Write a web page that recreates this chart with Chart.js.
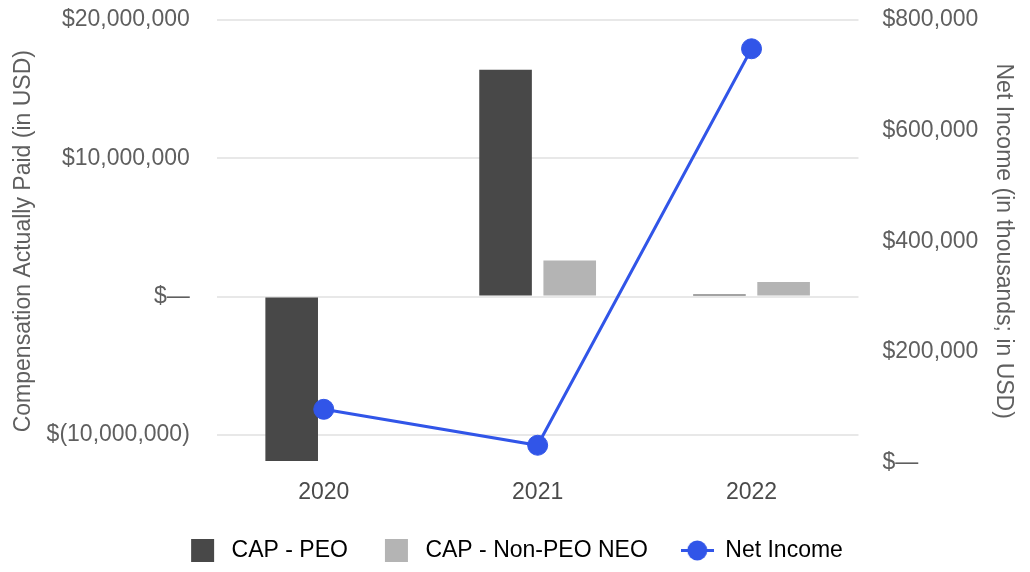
<!DOCTYPE html>
<html>
<head>
<meta charset="utf-8">
<script src="https://cdn.jsdelivr.net/npm/chart.js@4"></script>
<style>
  html, body { margin: 0; padding: 0; background: #fff; }
  #wrap { width: 1030px; height: 572px; }
</style>
</head>
<body>
<div id="wrap"><canvas id="myChart"></canvas></div>
<script>
// data //
const years = ["2020", "2021", "2022"];
const capPeo = [-11900000, 16400000, 150000];
const capNonPeo = [null, 2600000, 1050000];
const netIncome = [96000, 31000, 748000];
const leftTicks = [-10000000, 0, 10000000, 20000000];
const rightTicks = [0, 200000, 400000, 600000, 800000];

const peoColor = "#484848";
const neoColor = "#b4b4b4";
const lineColor = "#3155e8";
const font = "'Liberation Sans', Arial, sans-serif";

function money(v) {
  if (v === 0) return "$\u2014";
  const s = Math.abs(v).toLocaleString("en-US");
  return v < 0 ? "$(" + s + ")" : "$" + s;
}

// legend markers
function boxMarker(color) {
  const c = document.createElement("canvas");
  c.width = 33; c.height = 23;
  const ctx = c.getContext("2d");
  ctx.fillStyle = color;
  ctx.fillRect(4, 0, 23, 23);
  return c;
}
function lineMarker(color) {
  const c = document.createElement("canvas");
  c.width = 33; c.height = 23;
  const ctx = c.getContext("2d");
  ctx.strokeStyle = color;
  ctx.lineWidth = 3;
  ctx.beginPath(); ctx.moveTo(0, 11.5); ctx.lineTo(33, 11.5); ctx.stroke();
  ctx.fillStyle = color;
  ctx.beginPath(); ctx.arc(16.5, 11.5, 10, 0, Math.PI * 2); ctx.fill();
  return c;
}
const markers = [boxMarker(peoColor), boxMarker(neoColor), lineMarker(lineColor)];

new Chart("myChart", {
  type: "bar",
  data: {
    labels: years,
    datasets: [{
      label: "CAP - PEO",
      data: capPeo,
      backgroundColor: peoColor,
      yAxisID: "y",
      categoryPercentage: 0.6,
      barPercentage: 0.82,
      order: 2
    }, {
      label: "CAP - Non-PEO NEO",
      data: capNonPeo,
      backgroundColor: neoColor,
      yAxisID: "y",
      categoryPercentage: 0.6,
      barPercentage: 0.82,
      order: 2
    }, {
      type: "line",
      label: "Net Income",
      data: netIncome,
      borderColor: lineColor,
      backgroundColor: lineColor,
      borderWidth: 3,
      pointRadius: 10,
      pointBorderWidth: 1,
      pointBackgroundColor: lineColor,
      yAxisID: "y1",
      order: 1
    }]
  },
  options: {
    responsive: true,
    maintainAspectRatio: false,
    animation: false,
    layout: { padding: { top: 20, left: 0, right: 0, bottom: 0 } },
    plugins: {
      tooltip: { enabled: false },
      legend: {
        position: "bottom",
        labels: {
          color: "#4a4a4a",
          font: { family: font, size: 23 },
          padding: 33,
          usePointStyle: true,
          pointStyleWidth: 33,
          boxHeight: 23,
          generateLabels: function(chart) {
            return chart.data.datasets.map(function(ds, i) {
              return { text: ds.label, pointStyle: markers[i], datasetIndex: i, hidden: false, lineWidth: 0 };
            });
          }
        }
      }
    },
    scales: {
      x: {
        grid: { display: false, drawTicks: true, tickLength: 16 },
        border: { display: false },
        ticks: { color: "#4a4a4a", font: { family: font, size: 23 }, padding: 0 }
      },
      y: {
        position: "left",
        min: -12000000,
        max: 20000000,
        afterBuildTicks: function(scale) {
          scale.ticks = leftTicks.map(function(v) { return { value: v }; });
        },
        grid: { color: "#e8e8e8", lineWidth: 2, drawTicks: true, tickLength: 24, tickColor: "rgba(0,0,0,0)" },
        border: { display: false },
        ticks: {
          color: "#5f5f5f",
          font: { family: font, size: 23 },
          padding: 3,
          callback: function(v) { return money(v); }
        },
        title: {
          display: true,
          text: "Compensation Actually Paid (in USD)",
          color: "#5f5f5f",
          font: { family: font, size: 23 },
          padding: { top: 10, bottom: 6 }
        }
      },
      y1: {
        position: "right",
        min: 0,
        max: 800000,
        afterBuildTicks: function(scale) {
          scale.ticks = rightTicks.map(function(v) { return { value: v }; });
        },
        grid: { display: false, drawTicks: true, tickLength: 21 },
        border: { display: false },
        ticks: {
          color: "#5f5f5f",
          font: { family: font, size: 23 },
          padding: 3,
          callback: function(v) { return money(v); }
        },
        title: {
          display: true,
          text: "Net Income (in thousands; in USD)",
          color: "#5f5f5f",
          font: { family: font, size: 23 },
          padding: { top: 13, bottom: 8 }
        }
      }
    }
  }
});
</script>
</body>
</html>
